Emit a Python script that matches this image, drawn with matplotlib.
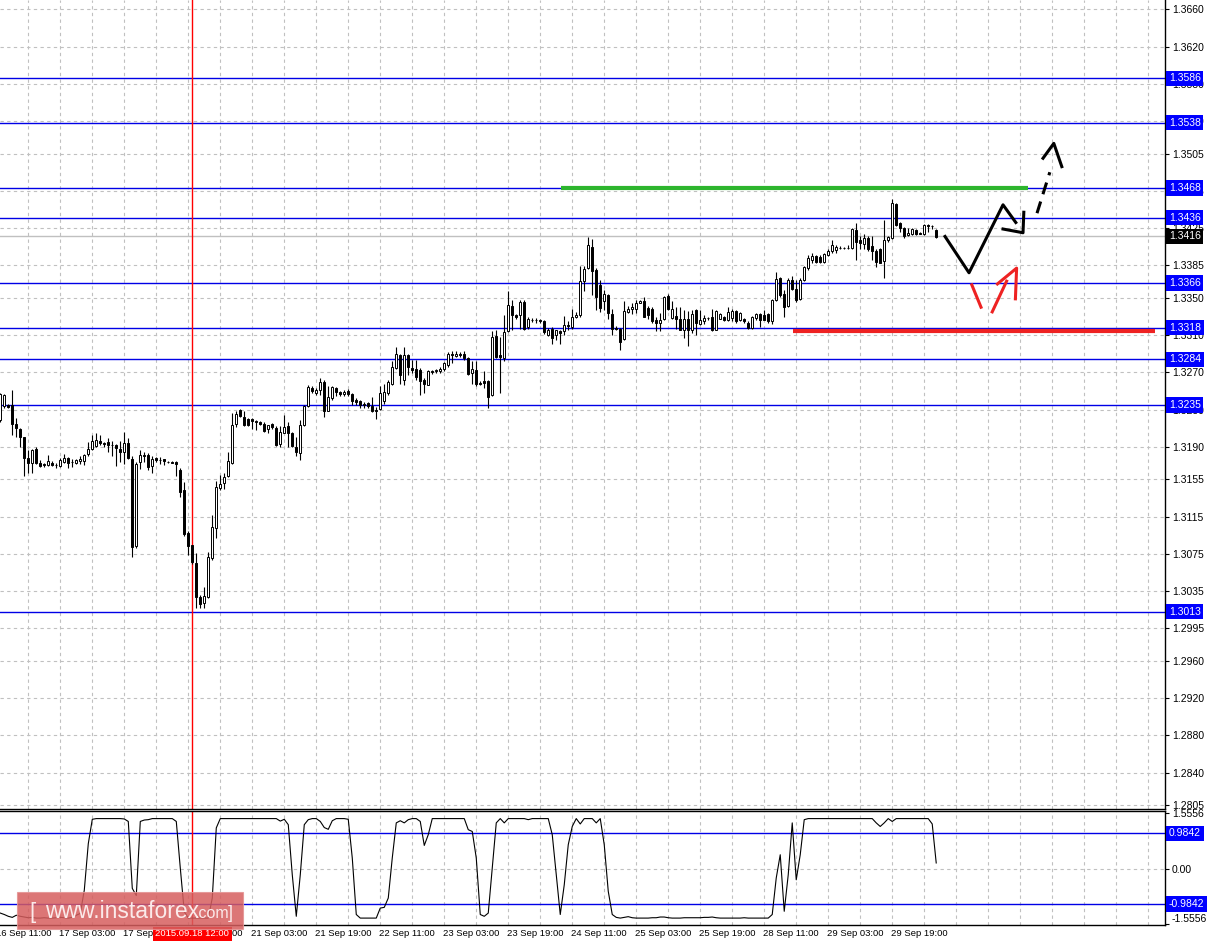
import matplotlib
matplotlib.use("Agg")
import matplotlib.pyplot as plt
import matplotlib.transforms as mtransforms
from matplotlib.patches import Rectangle

plt.rcParams['font.family'] = ['Liberation Sans', 'DejaVu Sans']

# H1 candles, 16 Sep 12:00 .. 30 Sep 06:00 (price)
opens = [1.3219, 1.3234, 1.3235, 1.3235, 1.3215, 1.3209, 1.3201, 1.3178, 1.3173, 1.3188,
         1.3173, 1.3172, 1.3170, 1.3173, 1.3170, 1.3169, 1.3174, 1.3178, 1.3174, 1.3173,
         1.3175, 1.3175, 1.3182, 1.3188, 1.3191, 1.3196, 1.3194, 1.3195, 1.3192, 1.3192,
         1.3188, 1.3185, 1.3194, 1.3177, 1.3083, 1.3174, 1.3181, 1.3181, 1.3169, 1.3178,
         1.3176, 1.3177, 1.3174, 1.3174, 1.3174, 1.3165, 1.3144, 1.3098, 1.3085, 1.3065,
         1.3029, 1.3022, 1.3029, 1.3071, 1.3103, 1.3146, 1.3151, 1.3159, 1.3173, 1.3215,
         1.3230, 1.3222, 1.3220, 1.3220, 1.3218, 1.3217, 1.3215, 1.3209, 1.3215, 1.3210,
         1.3193, 1.3205, 1.3212, 1.3205, 1.3190, 1.3183, 1.3213, 1.3234, 1.3253, 1.3248,
         1.3251, 1.3260, 1.3229, 1.3243, 1.3253, 1.3249, 1.3247, 1.3250, 1.3247, 1.3240,
         1.3239, 1.3236, 1.3237, 1.3234, 1.3230, 1.3231, 1.3239, 1.3248, 1.3258, 1.3275,
         1.3289, 1.3262, 1.3289, 1.3275, 1.3274, 1.3273, 1.3262, 1.3256, 1.3272, 1.3271,
         1.3271, 1.3274, 1.3278, 1.3290, 1.3288, 1.3290, 1.3290, 1.3285, 1.3269, 1.3273,
         1.3259, 1.3261, 1.3261, 1.3246, 1.3309, 1.3289, 1.3285, 1.3314, 1.3341, 1.3332,
         1.3332, 1.3346, 1.3319, 1.3326, 1.3326, 1.3326, 1.3325, 1.3310, 1.3317, 1.3310,
         1.3314, 1.3314, 1.3321, 1.3319, 1.3330, 1.3332, 1.3368, 1.3382, 1.3405, 1.3380,
         1.3364, 1.3347, 1.3353, 1.3333, 1.3318, 1.3317, 1.3306, 1.3335, 1.3338, 1.3338,
         1.3345, 1.3347, 1.3339, 1.3338, 1.3326, 1.3323, 1.3327, 1.3352, 1.3328, 1.3331,
         1.3327, 1.3316, 1.3327, 1.3316, 1.3337, 1.3322, 1.3325, 1.3328, 1.3329, 1.3315,
         1.3327, 1.3330, 1.3326, 1.3328, 1.3336, 1.3326, 1.3327, 1.3323, 1.3318, 1.3328,
         1.3333, 1.3332, 1.3333, 1.3325, 1.3348, 1.3371, 1.3354, 1.3341, 1.3369, 1.3360,
         1.3349, 1.3369, 1.3382, 1.3391, 1.3395, 1.3394, 1.3389, 1.3396, 1.3400, 1.3401,
         1.3404, 1.3404, 1.3404, 1.3404, 1.3423, 1.3412, 1.3408, 1.3414, 1.3406, 1.3400,
         1.3402, 1.3390, 1.3412, 1.3414, 1.3451, 1.3430, 1.3425, 1.3418, 1.3419, 1.3423,
         1.3420, 1.3419, 1.3428, 1.3427, 1.3423]
highs = [1.3248, 1.3247, 1.3236, 1.3251, 1.3221, 1.3210, 1.3201, 1.3187, 1.3188, 1.3190,
         1.3176, 1.3173, 1.3181, 1.3175, 1.3173, 1.3178, 1.3182, 1.3179, 1.3177, 1.3177,
         1.3180, 1.3182, 1.3195, 1.3203, 1.3205, 1.3203, 1.3195, 1.3199, 1.3196, 1.3193,
         1.3196, 1.3206, 1.3199, 1.3180, 1.3174, 1.3187, 1.3184, 1.3183, 1.3180, 1.3179,
         1.3179, 1.3177, 1.3175, 1.3175, 1.3175, 1.3167, 1.3152, 1.3100, 1.3085, 1.3076,
         1.3031, 1.3040, 1.3077, 1.3117, 1.3153, 1.3160, 1.3162, 1.3184, 1.3226, 1.3228,
         1.3231, 1.3228, 1.3221, 1.3221, 1.3219, 1.3218, 1.3217, 1.3214, 1.3216, 1.3212,
         1.3212, 1.3224, 1.3217, 1.3206, 1.3201, 1.3219, 1.3235, 1.3256, 1.3255, 1.3253,
         1.3264, 1.3262, 1.3255, 1.3255, 1.3254, 1.3250, 1.3251, 1.3252, 1.3248, 1.3242,
         1.3240, 1.3238, 1.3238, 1.3244, 1.3233, 1.3255, 1.3258, 1.3262, 1.3282, 1.3297,
         1.3290, 1.3297, 1.3290, 1.3283, 1.3283, 1.3275, 1.3264, 1.3273, 1.3273, 1.3274,
         1.3276, 1.3281, 1.3292, 1.3293, 1.3293, 1.3292, 1.3293, 1.3287, 1.3282, 1.3282,
         1.3261, 1.3271, 1.3262, 1.3314, 1.3315, 1.3308, 1.3332, 1.3357, 1.3348, 1.3333,
         1.3348, 1.3348, 1.3330, 1.3328, 1.3328, 1.3327, 1.3326, 1.3318, 1.3319, 1.3316,
         1.3316, 1.3331, 1.3325, 1.3338, 1.3335, 1.3384, 1.3384, 1.3415, 1.3413, 1.3382,
         1.3369, 1.3359, 1.3354, 1.3338, 1.3320, 1.3318, 1.3347, 1.3341, 1.3344, 1.3348,
         1.3348, 1.3351, 1.3341, 1.3340, 1.3330, 1.3334, 1.3352, 1.3354, 1.3347, 1.3340,
         1.3340, 1.3337, 1.3336, 1.3337, 1.3338, 1.3337, 1.3332, 1.3330, 1.3338, 1.3337,
         1.3334, 1.3331, 1.3340, 1.3338, 1.3337, 1.3335, 1.3328, 1.3325, 1.3331, 1.3334,
         1.3334, 1.3337, 1.3334, 1.3349, 1.3378, 1.3372, 1.3359, 1.3371, 1.3373, 1.3369,
         1.3371, 1.3384, 1.3396, 1.3398, 1.3396, 1.3396, 1.3398, 1.3402, 1.3412, 1.3407,
         1.3406, 1.3405, 1.3407, 1.3425, 1.3430, 1.3416, 1.3419, 1.3416, 1.3416, 1.3403,
         1.3404, 1.3434, 1.3417, 1.3456, 1.3452, 1.3432, 1.3426, 1.3425, 1.3425, 1.3424,
         1.3421, 1.3429, 1.3429, 1.3428, 1.3424]
lows = [1.3217, 1.3232, 1.3232, 1.3203, 1.3201, 1.3190, 1.3159, 1.3162, 1.3162, 1.3172,
        1.3168, 1.3168, 1.3169, 1.3169, 1.3167, 1.3168, 1.3173, 1.3167, 1.3168, 1.3172,
        1.3172, 1.3170, 1.3180, 1.3187, 1.3190, 1.3192, 1.3190, 1.3185, 1.3180, 1.3169,
        1.3174, 1.3172, 1.3177, 1.3072, 1.3081, 1.3166, 1.3174, 1.3165, 1.3162, 1.3174,
        1.3172, 1.3170, 1.3173, 1.3173, 1.3159, 1.3136, 1.3094, 1.3074, 1.3064, 1.3017,
        1.3017, 1.3017, 1.3028, 1.3069, 1.3092, 1.3144, 1.3145, 1.3158, 1.3172, 1.3211,
        1.3222, 1.3212, 1.3212, 1.3209, 1.3208, 1.3213, 1.3206, 1.3205, 1.3209, 1.3191,
        1.3190, 1.3205, 1.3190, 1.3190, 1.3180, 1.3176, 1.3212, 1.3233, 1.3248, 1.3246,
        1.3246, 1.3222, 1.3228, 1.3240, 1.3245, 1.3245, 1.3245, 1.3245, 1.3235, 1.3235,
        1.3232, 1.3232, 1.3232, 1.3227, 1.3220, 1.3230, 1.3236, 1.3246, 1.3256, 1.3274,
        1.3258, 1.3256, 1.3267, 1.3269, 1.3262, 1.3246, 1.3248, 1.3256, 1.3268, 1.3269,
        1.3269, 1.3272, 1.3276, 1.3280, 1.3287, 1.3287, 1.3283, 1.3267, 1.3258, 1.3255,
        1.3256, 1.3253, 1.3232, 1.3245, 1.3285, 1.3248, 1.3282, 1.3313, 1.3316, 1.3327,
        1.3317, 1.3316, 1.3317, 1.3324, 1.3323, 1.3323, 1.3311, 1.3309, 1.3301, 1.3305,
        1.3301, 1.3310, 1.3316, 1.3317, 1.3328, 1.3330, 1.3357, 1.3381, 1.3353, 1.3337,
        1.3335, 1.3337, 1.3327, 1.3310, 1.3315, 1.3294, 1.3305, 1.3334, 1.3333, 1.3334,
        1.3344, 1.3329, 1.3327, 1.3323, 1.3314, 1.3314, 1.3326, 1.3337, 1.3327, 1.3317,
        1.3316, 1.3307, 1.3298, 1.3312, 1.3310, 1.3321, 1.3322, 1.3326, 1.3314, 1.3315,
        1.3327, 1.3325, 1.3325, 1.3325, 1.3323, 1.3325, 1.3323, 1.3317, 1.3317, 1.3326,
        1.3319, 1.3326, 1.3323, 1.3322, 1.3347, 1.3351, 1.3330, 1.3340, 1.3359, 1.3346,
        1.3348, 1.3368, 1.3380, 1.3388, 1.3388, 1.3388, 1.3388, 1.3395, 1.3398, 1.3398,
        1.3403, 1.3402, 1.3402, 1.3402, 1.3391, 1.3403, 1.3403, 1.3400, 1.3391, 1.3383,
        1.3387, 1.3371, 1.3410, 1.3413, 1.3427, 1.3421, 1.3414, 1.3416, 1.3418, 1.3418,
        1.3419, 1.3418, 1.3421, 1.3424, 1.3414]
closes = [1.3247, 1.3246, 1.3233, 1.3215, 1.3210, 1.3201, 1.3178, 1.3173, 1.3187, 1.3173,
          1.3169, 1.3170, 1.3175, 1.3170, 1.3170, 1.3176, 1.3178, 1.3173, 1.3174, 1.3176,
          1.3177, 1.3181, 1.3188, 1.3196, 1.3197, 1.3194, 1.3193, 1.3192, 1.3192, 1.3189,
          1.3185, 1.3194, 1.3178, 1.3082, 1.3172, 1.3181, 1.3180, 1.3168, 1.3177, 1.3176,
          1.3176, 1.3175, 1.3174, 1.3173, 1.3172, 1.3142, 1.3096, 1.3084, 1.3066, 1.3029,
          1.3021, 1.3030, 1.3072, 1.3104, 1.3147, 1.3150, 1.3158, 1.3175, 1.3214, 1.3225,
          1.3223, 1.3214, 1.3214, 1.3218, 1.3217, 1.3215, 1.3207, 1.3213, 1.3211, 1.3192,
          1.3206, 1.3211, 1.3205, 1.3191, 1.3184, 1.3214, 1.3234, 1.3254, 1.3250, 1.3251,
          1.3260, 1.3228, 1.3244, 1.3254, 1.3249, 1.3247, 1.3249, 1.3247, 1.3239, 1.3238,
          1.3235, 1.3235, 1.3234, 1.3228, 1.3228, 1.3248, 1.3249, 1.3260, 1.3276, 1.3290,
          1.3267, 1.3289, 1.3276, 1.3273, 1.3265, 1.3261, 1.3258, 1.3272, 1.3270, 1.3273,
          1.3274, 1.3280, 1.3290, 1.3289, 1.3290, 1.3289, 1.3285, 1.3268, 1.3274, 1.3258,
          1.3258, 1.3259, 1.3244, 1.3308, 1.3287, 1.3286, 1.3313, 1.3342, 1.3332, 1.3330,
          1.3346, 1.3317, 1.3327, 1.3326, 1.3326, 1.3325, 1.3313, 1.3316, 1.3307, 1.3315,
          1.3312, 1.3321, 1.3320, 1.3330, 1.3332, 1.3368, 1.3381, 1.3407, 1.3379, 1.3351,
          1.3339, 1.3354, 1.3334, 1.3317, 1.3317, 1.3303, 1.3336, 1.3338, 1.3340, 1.3345,
          1.3347, 1.3330, 1.3332, 1.3325, 1.3323, 1.3326, 1.3351, 1.3338, 1.3338, 1.3327,
          1.3316, 1.3327, 1.3315, 1.3333, 1.3323, 1.3326, 1.3328, 1.3328, 1.3316, 1.3336,
          1.3333, 1.3326, 1.3335, 1.3336, 1.3325, 1.3334, 1.3325, 1.3318, 1.3330, 1.3333,
          1.3326, 1.3326, 1.3325, 1.3348, 1.3370, 1.3353, 1.3340, 1.3369, 1.3360, 1.3348,
          1.3369, 1.3383, 1.3393, 1.3395, 1.3389, 1.3389, 1.3397, 1.3400, 1.3407, 1.3405,
          1.3404, 1.3404, 1.3404, 1.3424, 1.3410, 1.3409, 1.3414, 1.3403, 1.3400, 1.3389,
          1.3388, 1.3412, 1.3415, 1.3452, 1.3428, 1.3425, 1.3416, 1.3420, 1.3424, 1.3419,
          1.3419, 1.3428, 1.3427, 1.3427, 1.3415]

# lower indicator, one value per bar
indicator = [-1.24, -1.28, -1.33, -1.36, -1.30, -1.33, -1.35, -1.37, -1.36, -1.38,
             -1.38, -1.37, -1.38, -1.38, -1.37, -1.36, -1.37, -1.38, -1.36, -1.30,
             -1.25, -0.60, 0.70, 1.38, 1.40, 1.40, 1.40, 1.40, 1.40, 1.40,
             1.40, 1.39, 1.32, -0.55, -0.75, 1.32, 1.36, 1.37, 1.40, 1.40,
             1.40, 1.40, 1.40, 1.40, 1.32, 0.02, -1.20, -1.38, -1.38, -1.38,
             -1.38, -1.38, -1.38, -0.82, 1.14, 1.40, 1.40, 1.40, 1.40, 1.40,
             1.40, 1.40, 1.40, 1.40, 1.40, 1.40, 1.40, 1.40, 1.40, 1.40,
             1.33, 1.38, 1.23, -0.17, -1.33, -0.17, 1.23, 1.37, 1.40, 1.40,
             1.32, 1.15, 1.10, 1.34, 1.40, 1.40, 1.40, 1.38, 0.30, -1.28,
             -1.38, -1.38, -1.38, -1.38, -1.38, -1.10, -1.08, -0.82, 0.30, 1.28,
             1.34, 1.28, 1.37, 1.40, 1.40, 1.32, 0.65, 0.95, 1.40, 1.40,
             1.40, 1.40, 1.40, 1.40, 1.40, 1.40, 1.40, 1.09, 1.04, 0.30,
             -1.28, -1.33, -1.24, 0.02, 1.28, 1.40, 1.28, 1.40, 1.40, 1.40,
             1.40, 1.40, 1.37, 1.40, 1.40, 1.40, 1.40, 1.40, 0.95, -0.17,
             -1.28, -0.45, 0.67, 1.18, 1.40, 1.25, 1.40, 1.40, 1.40, 1.28,
             1.40, 0.67, -0.63, -1.28, -1.36, -1.38, -1.36, -1.34, -1.37, -1.38,
             -1.38, -1.38, -1.38, -1.37, -1.37, -1.35, -1.35, -1.37, -1.38, -1.38,
             -1.38, -1.37, -1.37, -1.37, -1.37, -1.37, -1.36, -1.36, -1.35, -1.37,
             -1.38, -1.38, -1.38, -1.38, -1.38, -1.38, -1.37, -1.38, -1.38, -1.38,
             -1.38, -1.38, -1.38, -1.28, -0.26, 0.39, -1.19, -0.17, 1.28, -0.31,
             0.39, 1.37, 1.40, 1.40, 1.40, 1.40, 1.40, 1.40, 1.40, 1.40,
             1.40, 1.40, 1.40, 1.40, 1.40, 1.40, 1.40, 1.40, 1.40, 1.28,
             1.18, 1.28, 1.40, 1.32, 1.40, 1.40, 1.40, 1.40, 1.40, 1.40,
             1.40, 1.40, 1.40, 1.25, 0.16]

levels = [1.3586, 1.3538, 1.3468, 1.3436, 1.3366, 1.3318, 1.3284, 1.3235, 1.3013]
bid = 1.3416
ind_levels = [0.9842, -0.9842]

price_ticks = [1.3660, 1.3620, 1.3580, 1.3540, 1.3505, 1.3465, 1.3425, 1.3385, 1.3350,
               1.3310, 1.3270, 1.3230, 1.3190, 1.3155, 1.3115, 1.3075, 1.3035, 1.2995,
               1.2960, 1.2920, 1.2880, 1.2840, 1.2805]
ind_ticks = [1.5556, 0.0, -1.5556]
ind_tick_labels = ['1.5556', '0.00', '-1.5556']

time_labels = ['16 Sep 11:00', '17 Sep 03:00', '17 Sep 19:00', '18 Sep 11:00',
               '21 Sep 03:00', '21 Sep 19:00', '22 Sep 11:00', '23 Sep 03:00',
               '23 Sep 19:00', '24 Sep 11:00', '25 Sep 03:00', '25 Sep 19:00',
               '28 Sep 11:00', '29 Sep 03:00', '29 Sep 19:00']
time_label_bars = [-1, 15, 31, 47, 63, 79, 95, 111, 127, 143, 159, 175, 191, 207, 223]
vline_bar = 48
vline_text = '2015.09.18 12:00'

# hand drawn marks (bar index, price)
green_line = ([140.2, 256.9], [1.3468, 1.3468])
red_line = ([198.2, 288.7], [1.3314, 1.3314])
black_path = ([236.2, 242.2, 250.7, 253.9], [1.3416, 1.3377, 1.3450, 1.3431])
black_hook = ([250.7, 255.7, 255.9], [1.3424, 1.3420, 1.3442])
black_dash = ([259.2, 262.4], [1.3441, 1.3485])
black_head = ([260.7, 263.4, 265.4], [1.3500, 1.3516, 1.3491])
red_seg1 = ([242.9, 245.2], [1.3364, 1.3340])
red_seg2 = ([248.0, 251.6], [1.3335, 1.3368])
red_head = ([249.3, 254.1, 253.8], [1.3365, 1.3382, 1.3349])

W, H = 1207, 943
fig = plt.figure(figsize=(W / 100, H / 100), dpi=100)
ax = fig.add_axes([0, 1 - 809 / H, 1165 / W, 809 / H])
ax2 = fig.add_axes([0, 1 - 925 / H, 1165 / W, 114 / H])

n = len(closes)
xs = list(range(n))
grid_x = list(range(7, 292, 8))
grid_style = dict(color='#c0c0c0', linestyle=(0, (3, 3)), linewidth=0.8)
fs = 7.5      # price scale
fs_time = 6.8  # time scale

for a in (ax, ax2):
    a.set_xlim(-0.075, 291.2)
    a.spines['left'].set_visible(False)
    for s in ('right', 'bottom', 'top'):
        a.spines[s].set_color('black')
        a.spines[s].set_linewidth(1)
    a.yaxis.tick_right()
    a.set_xticks(grid_x)
    a.set_xticklabels([])
    a.tick_params(axis='x', which='major', length=0)
    a.tick_params(axis='y', direction='out', length=3, pad=2, labelsize=fs, colors='black')
    a.grid(True, axis='x', **grid_style)
    a.set_axisbelow(True)

ax.spines['top'].set_visible(False)
ax.set_ylim(1.28010, 1.36700)
ax.set_yticks(price_ticks)
ax.set_yticklabels(['%.4f' % t for t in price_ticks])
ax.grid(True, axis='y', **grid_style)

# levels and lines
for lv in levels:
    ax.axhline(lv, color='#0000e6', lw=1, zorder=1)
ax.axhline(bid, color='#c0c0c0', lw=1, zorder=1)
ax.axvline(vline_bar, color='red', lw=1, zorder=2)

# candles
up = [c >= o for o, c in zip(opens, closes)]
ax.vlines(xs, lows, highs, color='black', lw=0.8, zorder=3)
ax.bar(xs, [abs(c - o) for o, c in zip(opens, closes)],
       bottom=[min(o, c) for o, c in zip(opens, closes)], width=0.55,
       color=['white' if u else 'black' for u in up], edgecolor='black',
       linewidth=0.7, zorder=4)

# drawings
ax.plot(*green_line, color='#2db52d', lw=3, solid_capstyle='butt', zorder=5)
ax.plot(*red_line, color='#ee2222', lw=3, solid_capstyle='butt', zorder=5)
ax.plot(*black_path, color='black', lw=2.2, zorder=5)
ax.plot(*black_hook, color='black', lw=2.2, zorder=5)
ax.plot(*black_dash, color='black', lw=2.2, linestyle=(0, (4, 2.5)), zorder=5)
ax.plot(*black_head, color='black', lw=2.2, zorder=5)
ax.plot(*red_seg1, color='#ee2222', lw=2.2, zorder=5)
ax.plot(*red_seg2, color='#ee2222', lw=2.2, zorder=5)
ax.plot(*red_head, color='#ee2222', lw=2.2, zorder=5)

# right-side label boxes
tr = mtransforms.blended_transform_factory(ax.transAxes, ax.transData)
dx = 4 / 1165
box_blue = dict(boxstyle='square,pad=0.25', fc='#0000ff', ec='none')
for lv in levels:
    ax.text(1 + dx, lv, '%.4f' % lv, transform=tr, color='white', fontsize=fs,
            ha='left', va='center', clip_on=False, zorder=10, bbox=box_blue)
ax.text(1 + dx, bid, '%.4f' % bid, transform=tr, color='white', fontsize=fs,
        ha='left', va='center', clip_on=False, zorder=10,
        bbox=dict(boxstyle='square,pad=0.25', fc='black', ec='none'))

# indicator panel
ax2.set_ylim(-1.573, 1.612)
ax2.plot(xs, indicator, color='black', lw=0.8, zorder=3)
ax2.axhline(0, **grid_style, zorder=0)
for lv in ind_levels:
    ax2.axhline(lv, color='#0000e6', lw=1, zorder=1)
ax2.axvline(vline_bar, color='red', lw=1, zorder=2)
ax2.set_yticks(ind_ticks)
ax2.set_yticklabels(ind_tick_labels)
ax2.get_yticklabels()[-1].set_va('bottom')
tr2 = mtransforms.blended_transform_factory(ax2.transAxes, ax2.transData)
for lv in ind_levels:
    ax2.text(1 + dx, lv, '%.4f' % lv, transform=tr2, color='white', fontsize=fs,
             ha='left', va='center', clip_on=False, zorder=10, bbox=box_blue)

# time axis
ax2.set_xticks([b for b in time_label_bars if b >= 0], minor=True)
ax2.tick_params(axis='x', which='minor', length=4, direction='out', color='black')
trx = mtransforms.blended_transform_factory(ax2.transData, ax2.transAxes)
yl = -(934 - 925) / 114
for b, lab in zip(time_label_bars, time_labels):
    ax2.text(b - 0.2, yl, lab, transform=trx, fontsize=fs_time, ha='left', va='center',
             clip_on=False)
ax2.text(vline_bar, yl, vline_text, transform=trx, fontsize=fs_time, color='white',
         ha='center', va='center', clip_on=False, zorder=10,
         bbox=dict(boxstyle='square,pad=0.25', fc='#ff0000', ec='none'))

# watermark
fig.patches.append(Rectangle((17 / W, 1 - 929 / H), 226 / W, 37 / H, transform=fig.transFigure,
                             facecolor='#d65e5e', alpha=0.85, edgecolor='#e49494', lw=0.8,
                             zorder=20))
base_y = 1 - 918 / H
wm_color = '#fbeaea'
fig.text(29 / W, base_y, '[', fontsize=16, color=wm_color, va='baseline', zorder=21)
fig.text(45 / W, base_y, 'www.instaforex', fontsize=16.5, color=wm_color, va='baseline', zorder=21)
fig.text(194 / W, base_y, '.com', fontsize=11.5, color=wm_color, va='baseline', zorder=21)
fig.text(228 / W, base_y, ']', fontsize=13, color=wm_color, va='baseline', zorder=21)

fig.savefig('out.png', dpi=100)
